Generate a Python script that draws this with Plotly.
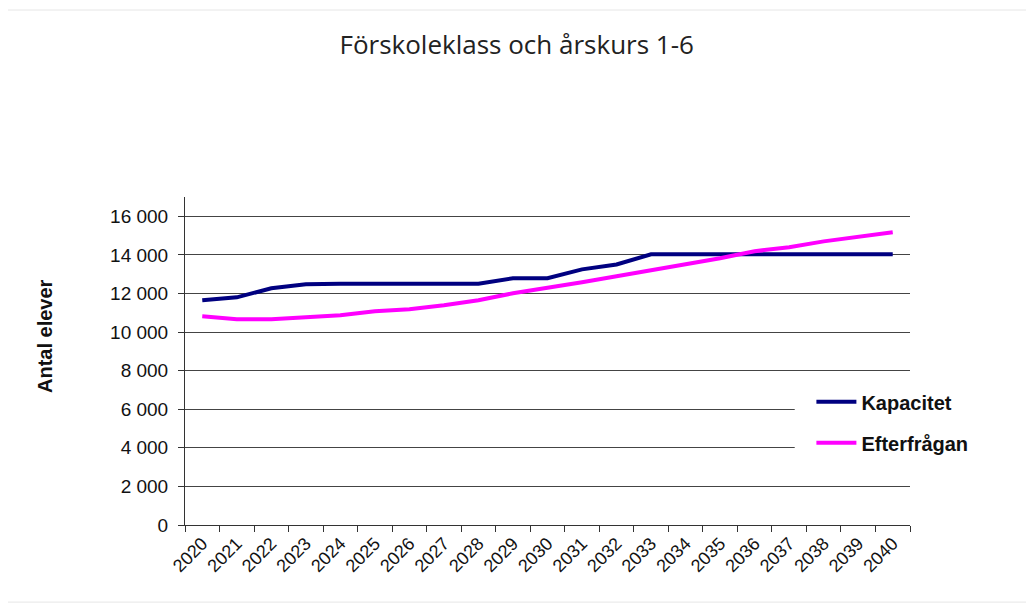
import plotly.graph_objects as go

years = [str(y) for y in range(2020, 2041)]
kapacitet = [11650, 11800, 12270, 12480, 12500, 12500, 12500, 12500, 12500, 12790, 12790,
             13250, 13500, 14030, 14030, 14030, 14030, 14030, 14030, 14030, 14030]
efterfragan = [10820, 10670, 10670, 10770, 10870, 11080, 11180, 11390, 11650, 12010, 12270,
               12580, 12890, 13200, 13510, 13830, 14190, 14400, 14700, 14910, 15170]
ytick_vals = [0, 2000, 4000, 6000, 8000, 10000, 12000, 14000, 16000]
ytick_text = ["0", "2 000", "4 000", "6 000", "8 000", "10 000", "12 000", "14 000", "16 000"]

fig = go.Figure()
fig.add_trace(go.Scatter(x=years, y=kapacitet, mode="lines", name="<b>Kapacitet</b>",
                         legendgroup="a",
                         line=dict(color="#000080", width=4)))
fig.add_trace(go.Scatter(x=years, y=efterfragan, mode="lines", name="<b>Efterfrågan</b>",
                         legendgroup="b",
                         line=dict(color="#FF00FF", width=4)))

fig.update_layout(
    width=1034, height=606,
    paper_bgcolor="white", plot_bgcolor="white",
    margin=dict(l=177, r=132, t=189, b=89),
    title=dict(text="Förskoleklass och årskurs 1-6", x=0.492, xanchor="center",
               xref="container", y=0.939, yanchor="middle",
               font=dict(family="Open Sans", size=26, color="#222")),
    font=dict(family="Liberation Sans, Arial", color="#111"),
    legend=dict(x=0.864, y=0.435, xanchor="left", yanchor="top",
                bgcolor="rgba(0,0,0,0)", borderwidth=0,
                font=dict(family="Liberation Sans, Arial", size=20, color="#111"),
                tracegroupgap=12, itemwidth=40),
    xaxis=dict(type="category", tickson="boundaries", ticks="outside", ticklen=6,
               tickcolor="#333", showline=True, linecolor="#333", linewidth=1,
               showgrid=False, tickangle=-45, tickfont=dict(size=18),
               range=[-0.5, 20.5]),
    yaxis=dict(range=[0, 17000], tickvals=ytick_vals, ticktext=ytick_text,
               ticks="outside", ticklen=6, tickcolor="#333",
               showline=True, linecolor="#333", linewidth=1,
               showgrid=True, gridcolor="#444", gridwidth=1,
               zeroline=False, tickfont=dict(size=19), ticklabelstandoff=6),
    annotations=[dict(text="<b>Antal elever</b>", xref="paper", yref="paper",
                      x=(45 - 185) / 725, y=(525 - 336) / 328, textangle=-90,
                      showarrow=False, xanchor="center", yanchor="middle",
                      font=dict(size=20, color="#111"))],
    shapes=[
        dict(type="rect", xref="paper", yref="paper",
             x0=-0.251, x1=1.167, y0=-0.235, y1=1.570,
             line=dict(color="#e6e6e6", width=1), layer="below"),
        dict(type="rect", xref="paper", yref="y",
             x0=0.841, x1=1.0, y0=2600, y1=7400,
             fillcolor="white", line=dict(width=0), layer="above"),
    ],
)

fig.write_html("out.html")
